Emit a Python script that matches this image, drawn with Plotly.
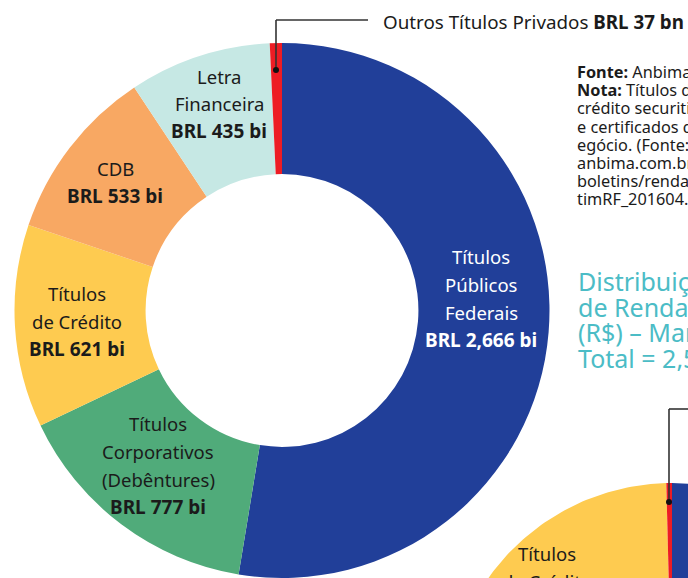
import math
import plotly.graph_objects as go

# ---------------- data ----------------
main_labels = ["Títulos Públicos Federais", "Títulos Corporativos (Debêntures)",
               "Títulos de Crédito", "CDB", "Letra Financeira", "Outros Títulos Privados"]
main_values = [2666, 777, 621, 533, 435, 37]
main_colors = ["#213F99", "#50AB7A", "#FECB50", "#F8A863", "#C6E8E4", "#ED1C24"]

# label lines per slice (last line bold)
main_text_lines = [
    ["Títulos", "Públicos", "Federais", "BRL 2,666 bi"],
    ["Títulos", "Corporativos", "(Debêntures)", "BRL 777 bi"],
    ["Títulos", "de Crédito", "BRL 621 bi"],
    ["CDB", "BRL 533 bi"],
    ["Letra", "Financeira", "BRL 435 bi"],
]
others_label = "Outros Títulos Privados"
others_value_text = "BRL 37 bn"

# second (partially visible) donut
second_labels = ["Títulos Públicos Federais", "Títulos Corporativos", "Títulos de Crédito", "Outros"]
second_values = [1450, 420, 600, 10]
second_colors = ["#213F99", "#50AB7A", "#FECB50", "#ED1C24"]
second_text_lines = ["Títulos", "de Crédito"]

note_lines = [
    ("Fonte:", " Anbima"),
    ("Nota:", " Títulos de"),
    ("", "crédito securitizados"),
    ("", "e certificados do agron-"),
    ("", "egócio. (Fonte: www."),
    ("", "anbima.com.br/"),
    ("", "boletins/renda-fixa/bole"),
    ("", "timRF_201604.pdf)"),
]
title_lines = ["Distribuição do Mercado", "de Renda Fixa", "(R$) – Março 2016", "Total = 2,5 tri"]
top_fragment = "(R$)"

# ---------------- layout constants ----------------
W, H = 688, 578
FONT = "Noto Sans"
DARK = "#1b1b1b"
TEAL = "#4BBCC6"

fig = go.Figure()

# main donut (pie trace)
cx_main, r_main = 282, 267.5
fig.add_trace(go.Pie(
    labels=main_labels, values=main_values,
    marker=dict(colors=main_colors, line=dict(width=0)),
    hole=0.51, sort=False, direction="clockwise", rotation=0,
    textinfo="none", hoverinfo="label+value", showlegend=False,
    domain=dict(x=[(cx_main - r_main) / W, (cx_main + r_main) / W], y=[0, 2 * r_main / H]),
))

# second donut, drawn as filled wedges in a pixel-scaled cartesian space
c2x, c2y, r2o, r2i = 672, 708, 225, 115
total2 = sum(second_values)
acc = 0.0
for lab, val, col in zip(second_labels, second_values, second_colors):
    a0 = acc / total2 * 2 * math.pi
    a1 = (acc + val) / total2 * 2 * math.pi
    acc += val
    n = max(8, int((a1 - a0) / (2 * math.pi) * 360))
    angs = [a0 + (a1 - a0) * k / n for k in range(n + 1)]
    xs = [c2x + r2o * math.sin(a) for a in angs] + [c2x + r2i * math.sin(a) for a in reversed(angs)]
    ys = [c2y - r2o * math.cos(a) for a in angs] + [c2y - r2i * math.cos(a) for a in reversed(angs)]
    fig.add_trace(go.Scatter(x=xs + [xs[0]], y=ys + [ys[0]], mode="lines", fill="toself",
                             fillcolor=col, line=dict(width=0, color=col),
                             name=lab, showlegend=False, hoverinfo="name"))

annotations = []

def add_text(text, x, y, size, color, anchor="center", yanchor="middle"):
    # positions given in pixels from top-left; converted to paper fractions
    annotations.append(dict(x=x / W, y=1 - y / H, xref="paper", yref="paper", text=text,
                            showarrow=False, xanchor=anchor, yanchor=yanchor,
                            font=dict(family=FONT, size=size, color=color)))

# slice labels
label_pos = [
    (481, [256, 284, 312, 340], "white"),
    (158, [423, 451, 479, 507], DARK),
    (77, [293, 321, 349], DARK),
    (115, [169, 196], DARK),
    (219, [76, 104, 131], DARK),
]
for lines, (x, ys, col) in zip(main_text_lines, label_pos):
    for i, (t, y) in enumerate(zip(lines, ys)):
        if i == len(lines) - 1:
            add_text(f"<b>{t}</b>", x, y, 19, col)
        else:
            add_text(t, x, y, 18.5, col)

# outside label for tiny slice
add_text(f"{others_label} <b>{others_value_text}</b>", 381, 22, 18.8, DARK, "left")

# second donut label (partially visible)
for t, y in zip(second_text_lines, [553, 581]):
    add_text(t, 547, y, 18.5, DARK)

# notes
for i, (b, r) in enumerate(note_lines):
    txt = (f"<b>{b}</b>" if b else "") + r
    add_text(txt, 575, 72 + i * 18.2, 16.3, DARK, "left")

# teal title
for i, t in enumerate(title_lines):
    add_text(t, 576, 281 + i * 25.5, 25, TEAL, "left")

# fragment of text cut at the top edge
add_text(top_fragment, 139, 3.5, 20, "#9BDCE1", "center", "bottom")

shapes = [
    # leader line for main small slice
    dict(type="line", xref="x", yref="y", x0=276, y0=70, x1=276, y1=20, line=dict(color="#333333", width=1.6)),
    dict(type="line", xref="x", yref="y", x0=276, y0=20, x1=368, y1=20, line=dict(color="#333333", width=1.6)),
    dict(type="circle", xref="x", yref="y", x0=273, y0=67, x1=279, y1=73, fillcolor="#111111", line=dict(width=0)),
    # leader line for second donut's small slice
    dict(type="line", xref="x", yref="y", x0=669, y0=502, x1=669, y1=409, line=dict(color="#333333", width=1.6)),
    dict(type="line", xref="x", yref="y", x0=669, y0=409, x1=700, y1=409, line=dict(color="#333333", width=1.6)),
    dict(type="circle", xref="x", yref="y", x0=666, y0=499, x1=672, y1=505, fillcolor="#111111", line=dict(width=0)),
]

fig.update_layout(
    width=W, height=H, margin=dict(l=0, r=0, t=0, b=0, pad=0),
    paper_bgcolor="white", plot_bgcolor="white",
    xaxis=dict(range=[0, W], visible=False, fixedrange=True, domain=[0, 1]),
    yaxis=dict(range=[H, 0], visible=False, fixedrange=True, domain=[0, 1]),
    annotations=annotations, shapes=shapes, showlegend=False,
    font=dict(family=FONT),
)

fig.write_html("out.html", config={"displayModeBar": False},
               post_script="document.body.style.margin='0';document.body.style.overflow='hidden';")
